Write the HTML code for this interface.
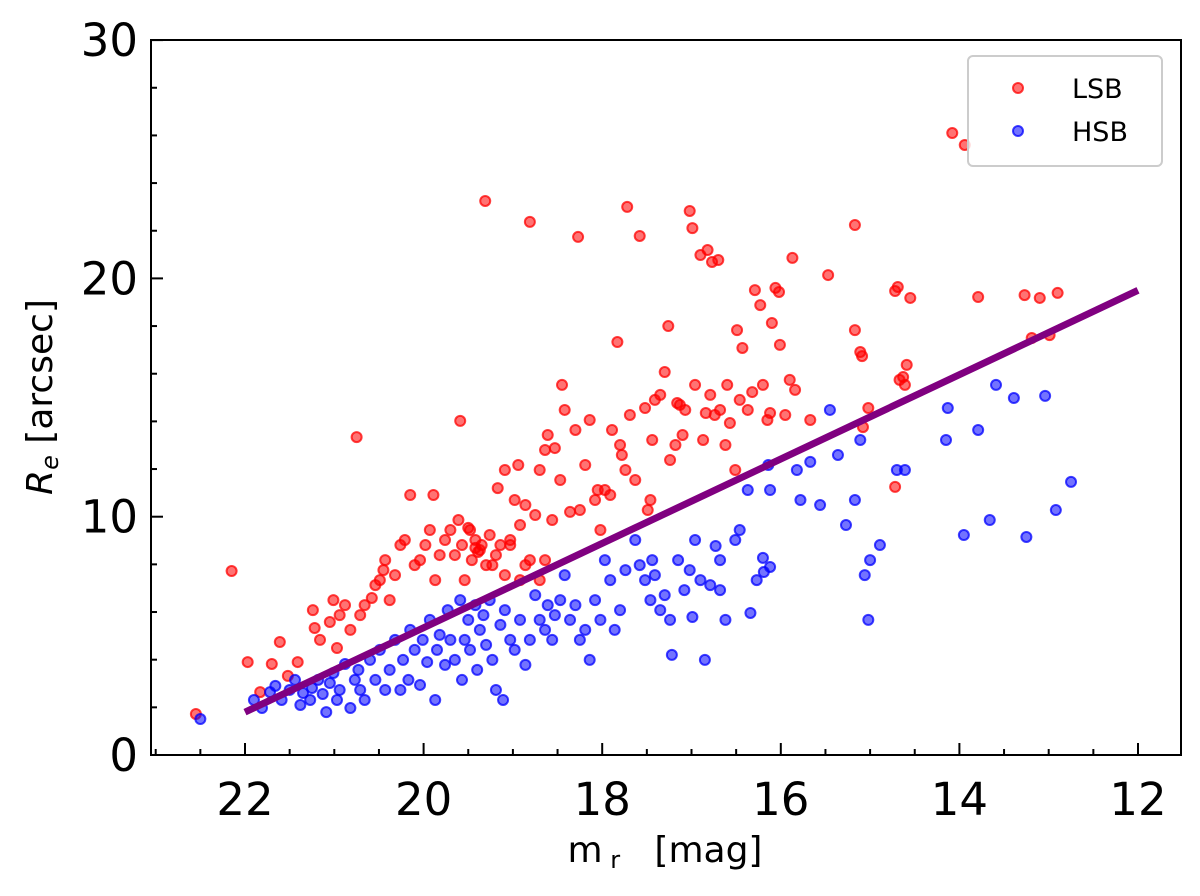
<!DOCTYPE html>
<html><head><meta charset="utf-8"><style>
body{margin:0;background:#fff;}
svg text{font-family:"DejaVu Sans","Liberation Sans",sans-serif;}
</style></head><body>
<svg id="chart" width="1200" height="891" viewBox="0 0 1200 891" xmlns="http://www.w3.org/2000/svg">
<rect x="0" y="0" width="1200" height="891" fill="#fff"/>
<g id="marks"></g>
<g id="axes"></g>
</svg>
<script>
const lsbPx=[[196,714],[232,571],[248,662],[260,692],[272,664],[280,642],[288,676],[298,662],[313,610],[315,628],[320,640],[330,622],[333,600],[340,615],[337,648],[345,605],[357,437],[350,630],[360,615],[365,605],[372,598],[375,585],[380,580],[383,570],[385,560],[390,600],[395,575],[400,545],[405,540],[410,495],[415,565],[420,560],[425,545],[430,530],[435,580],[433,495],[440,555],[445,540],[450,530],[455,555],[458,520],[462,545],[465,580],[468,528],[472,560],[475,540],[478,552],[482,545],[486,565],[490,535],[492,565],[496,555],[500,545],[505,575],[510,545],[520,580],[525,565],[520,525],[530,560],[540,580],[545,560],[485,201],[460,421],[470,530],[475,548],[480,550],[498,488],[505,470],[510,540],[515,500],[518,465],[525,505],[530,222],[535,515],[540,470],[545,450],[548,435],[552,520],[555,448],[560,480],[562,385],[565,410],[570,512],[575,430],[578,237],[580,510],[585,465],[590,420],[595,500],[598,490],[600,530],[605,490],[610,495],[612,430],[617,342],[620,445],[622,455],[625,470],[627,207],[630,415],[635,480],[640,236],[645,408],[648,510],[650,500],[652,440],[655,400],[660,395],[665,372],[668,326],[670,460],[675,445],[677,403],[680,405],[683,435],[685,410],[690,211],[692,228],[695,385],[700,255],[703,440],[706,413],[708,250],[710,395],[712,262],[715,415],[718,260],[720,410],[725,445],[727,385],[730,423],[735,470],[737,330],[740,400],[742,348],[748,410],[752,392],[755,290],[760,305],[763,385],[767,420],[770,413],[775,288],[779,292],[772,323],[780,345],[785,415],[790,380],[792,258],[795,390],[810,420],[828,275],[855,225],[855,330],[860,352],[862,356],[863,427],[868,408],[895,487],[895,291],[898,287],[900,380],[903,377],[905,385],[907,365],[910,298],[952,133],[965,145],[978,297],[1025,295],[1032,338],[1040,298],[1050,335],[1058,293]];
const hsbPx=[[200,719],[254,700],[262,708],[270,692],[275,686],[282,700],[290,690],[295,680],[300,705],[303,693],[310,700],[312,688],[318,680],[323,694],[326,712],[330,683],[333,673],[337,700],[340,690],[345,664],[350,708],[355,680],[358,670],[360,690],[365,700],[370,660],[375,680],[380,650],[385,690],[390,670],[395,640],[400,690],[403,660],[408,680],[410,630],[415,650],[420,685],[423,640],[427,662],[430,620],[435,700],[437,650],[440,635],[445,665],[448,610],[450,640],[455,660],[460,600],[462,680],[465,640],[468,620],[470,650],[475,605],[477,670],[480,630],[483,615],[486,645],[490,600],[492,660],[496,690],[500,625],[503,700],[505,610],[510,640],[515,650],[520,620],[525,665],[530,640],[535,595],[540,620],[545,630],[548,605],[552,640],[555,615],[560,600],[565,575],[570,620],[575,605],[580,640],[585,630],[590,660],[595,600],[600,620],[605,560],[610,580],[615,630],[620,610],[625,570],[635,540],[640,565],[645,580],[650,600],[652,560],[655,575],[660,610],[665,595],[670,620],[672,655],[678,560],[684,590],[690,570],[692,617],[695,540],[700,580],[705,660],[710,585],[716,546],[720,560],[725,620],[735,540],[740,530],[748,490],[768,465],[797,470],[800,500],[810,462],[820,505],[830,410],[838,455],[846,525],[855,500],[860,440],[865,575],[870,560],[868,620],[880,545],[905,470],[897,470],[948,408],[946,440],[964,535],[978,430],[990,520],[996,385],[1014,398],[1045,396],[1056,510],[1026,537],[1071,482],[750,613],[757,580],[764,572],[770,567],[763,558],[720,590],[770,490]];
const X0=245, XS=89.3, Y0=755, YS=23.83;
const xs=v=>X0+(22-v)*XS, ys=v=>Y0-v*YS;
const lsbMag=lsbPx.map(p=>+(22-(p[0]-X0)/XS).toFixed(2));
const lsbRe=lsbPx.map(p=>+((Y0-p[1])/YS).toFixed(2));
const hsbMag=hsbPx.map(p=>+(22-(p[0]-X0)/XS).toFixed(2));
const hsbRe=hsbPx.map(p=>+((Y0-p[1])/YS).toFixed(2));
const fitMag=[22,12];
const fitRe=[1.8,19.5];
const xTicks=[22,20,18,16,14,12];
const yTicks=[0,10,20,30];

const NS='http://www.w3.org/2000/svg';
function mk(tag,attrs,parent){const e=document.createElementNS(NS,tag);for(const k in attrs)e.setAttribute(k,attrs[k]);parent.appendChild(e);return e;}
const marks=document.getElementById('marks'), axes=document.getElementById('axes');

lsbMag.forEach((m,i)=>{const c=mk('circle',{cx:xs(m),cy:ys(lsbRe[i]),r:5,fill:'rgba(255,0,0,0.55)',stroke:'rgba(255,0,0,0.75)','stroke-width':2},marks);

});
hsbMag.forEach((m,i)=>{const c=mk('circle',{cx:xs(m),cy:ys(hsbRe[i]),r:5,fill:'rgba(0,0,255,0.55)',stroke:'rgba(0,0,255,0.75)','stroke-width':2},marks);

});
const fl=mk('line',{x1:xs(fitMag[0]),y1:ys(fitRe[0]),x2:xs(fitMag[1]),y2:ys(fitRe[1]),stroke:'#800080','stroke-width':7},marks);



const frame=mk('rect',{x:151,y:40,width:1030,height:715,fill:'none',stroke:'#000','stroke-width':2},axes);


for(let v=23;v>=11.5;v-=0.5){const x=xs(v);if(x<151||x>1181)continue;const maj=xTicks.includes(v);
mk('line',{x1:x,y1:755,x2:x,y2:maj?743:749,stroke:'#000','stroke-width':2},axes);}
xTicks.forEach(v=>{const t=mk('text',{x:xs(v),y:815,'font-size':45,'text-anchor':'middle'},axes);t.textContent=v;

});
for(let v=0;v<=30;v+=2){const y=ys(v);const maj=v%10===0;
mk('line',{x1:151,y1:y,x2:maj?163:157,y2:y,stroke:'#000','stroke-width':2},axes);}
yTicks.forEach(v=>{const t=mk('text',{x:138,y:ys(v)+16,'font-size':45,'text-anchor':'end'},axes);t.textContent=v;

});
</script>
<svg style="position:absolute;left:0;top:0" width="1200" height="891" xmlns="http://www.w3.org/2000/svg">
<text x="665" y="862" font-size="36" text-anchor="middle" font-family="DejaVu Sans, Liberation Sans, sans-serif">m<tspan font-size="24" dy="6"> r</tspan><tspan dy="-6" xml:space="preserve">   [mag]</tspan></text>
<text transform="translate(52,397) rotate(-90)" font-size="36" text-anchor="middle" font-family="DejaVu Sans, Liberation Sans, sans-serif"><tspan font-style="italic">R</tspan><tspan font-size="24" font-style="italic" dy="6">e</tspan><tspan dy="-6"> [arcsec]</tspan></text>
<g>
<rect x="968" y="56" width="194" height="110" rx="5" fill="#fff" fill-opacity="0.8" stroke="#ccc" stroke-width="2"/>
<circle cx="1018" cy="88" r="5" fill="rgba(255,0,0,0.55)" stroke="rgba(255,0,0,0.75)" stroke-width="2"/>
<text x="1072" y="98" font-size="27" font-family="DejaVu Sans, Liberation Sans, sans-serif">LSB</text>
<circle cx="1018" cy="131" r="5" fill="rgba(0,0,255,0.55)" stroke="rgba(0,0,255,0.75)" stroke-width="2"/>
<text x="1072" y="141" font-size="27" font-family="DejaVu Sans, Liberation Sans, sans-serif">HSB</text>
</g>
</svg>
</body></html>
